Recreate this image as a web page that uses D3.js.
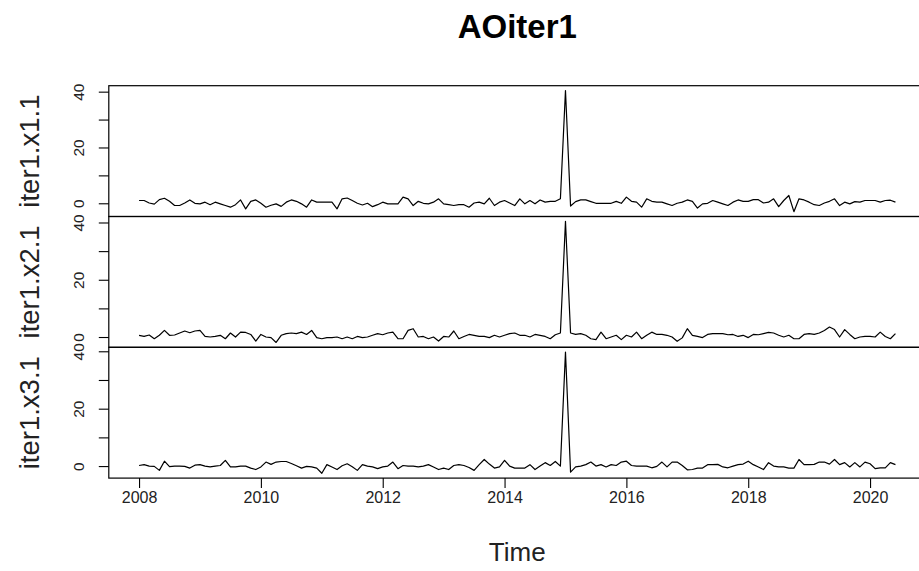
<!DOCTYPE html>
<html><head><meta charset="utf-8">
<script src="https://cdn.jsdelivr.net/npm/d3@7/dist/d3.min.js"></script>
<style>
body{margin:0;background:#fff;overflow:hidden}
svg{display:block}
text{font-family:"Liberation Sans",Arial,Helvetica,sans-serif;fill:#000}
</style>
</head><body>
<svg id="chart" width="919" height="571"></svg>
<script>
// ---- data ----
const chartTitle = "AOiter1";
const xAxisTitle = "Time";
const startYear = 2008;          // first observation: Jan 2008
const frequency = 12;            // monthly
const seriesNames = ["iter1.x1.1", "iter1.x2.1", "iter1.x3.1"];

const iter1_x1_1 = [
 1.0,1.0,0.1,-0.3,1.3,1.8,0.7,-0.8,-0.8,0.1,
 1.2,0,-0.2,0.4,-0.5,0.4,-0.2,-0.8,-1.4,-0.5,
 1.2,-2.0,0.7,1.2,0,-1.4,-0.7,-0.2,-1.1,0.4,
 1.2,0.7,-0.2,-1.4,1.2,0.4,0.4,0.4,0.4,-2.0,
 1.6,1.9,1.0,0,-0.6,0,-1.2,-0.5,0.4,-0.2,
 -0.2,-0.2,2.2,1.6,-0.8,0.7,0,-0.2,0.4,1.6,
 -0.2,-0.5,-0.8,-0.5,-0.5,-1.4,0.1,0.4,-0.2,1.8,
 -0.8,0.4,1.0,0.1,-0.8,1.6,-0.2,1.0,-0.2,1.2,
 0.4,0.7,0.7,1.6,40.4,-1.0,0.6,1.2,1.2,0.6,
 0,0,0,0,0.7,0,2.2,0.7,0.4,-1.4,
 1.6,0.7,0.4,0.4,-0.2,-0.8,0,0.4,1.2,0.7,
 -1.7,-0.2,0,1.0,0.4,-0.2,-0.8,0.4,1.2,0.7,
 0.7,1.3,1.3,0.1,0.4,1.6,-1.2,1.0,2.8,-3.0,
 1.6,1.2,0.4,-0.5,-0.8,0.1,0.7,1.6,-0.8,0.4,
 -0.2,0.6,0.4,1.0,1.0,1.0,0.4,1.0,1.1,0.4
];
const iter1_x2_1 = [
 0.6,0.2,0.7,-0.6,0.6,2.3,0.6,0.7,1.4,2.1,
 1.5,2.1,2.3,0.2,0,0.2,0.6,-0.6,1.4,0,
 1.7,1.6,0.9,-1.4,0.9,0,-0.2,-1.9,0.6,1.2,
 1.4,1.2,1.7,0.9,2.3,-0.2,-0.6,-0.2,-0.2,0,
 -0.6,0,-0.6,0.2,-0.2,0,0.6,1.2,0.8,1.4,
 1.7,-0.6,-0.6,2.3,2.9,0,0.2,-0.6,0,-1.4,
 0.2,0,2.1,-0.6,0.2,0.9,0.6,0.2,0.2,-0.2,
 0.6,0,0.6,1.2,1.4,0.6,0.6,0,0.9,0.6,
 0.2,-0.6,0.8,1.4,40.4,1.4,0.9,1.2,0.6,-0.6,
 -0.9,1.7,-0.6,0,0.6,-0.9,0.6,0,1.7,-0.6,
 0.6,1.7,0.9,0.9,0.6,0,-1.5,-0.3,2.9,0.6,
 0.2,-0.2,0.9,1.2,1.2,1.2,0.8,0.9,0.2,0.6,
 -0.2,0.9,0.8,1.2,1.6,1.4,0.6,0,0.6,-0.6,
 -0.6,0.9,1.2,0.9,1.4,2.3,3.5,2.6,0,2.6,
 0.9,-0.6,0,0.2,0.2,0,1.7,0.2,-0.6,1.2
];
const iter1_x3_1 = [
 0.2,0.5,0,-0.1,-1.5,1.7,-0.2,0,0,-0.1,
 -0.7,0.3,0.5,0,-0.3,0,0.2,2.0,-0.3,-0.3,
 0,0,-0.7,-1.2,-0.3,1.4,0.6,1.4,1.6,1.6,
 0.9,0.1,-0.7,-0.1,-0.3,-0.7,-2.5,0.5,-0.3,-1.2,
 0.1,0.8,-0.2,-1.5,0.5,0,-0.3,-0.9,-0.3,0,
 1.4,-0.9,0.2,0,0,-0.3,0,0.5,-0.3,-1.2,
 -0.7,-1.2,0.2,0.5,0.2,-0.5,-1.5,0.5,2.3,0.7,
 -0.7,-0.3,2.0,0,-0.7,-0.7,-0.7,0.5,-1.2,0,
 1.2,0.2,1.6,0,39.7,-2.1,-0.3,0,0.5,1.4,
 0,0.5,-0.3,0.5,0.2,1.4,1.7,0.2,0,0,
 0,-0.6,-0.1,1.4,-0.3,1.4,1.4,0.2,-1.3,-1.2,
 -0.7,-0.7,0.5,0.5,0.6,-0.3,-0.6,0,0.5,0.7,
 1.7,0.5,-0.3,-1.2,1.2,0,-0.3,-0.3,-0.7,-0.7,
 2.3,0.5,0.5,0.6,1.4,1.4,0.7,2.3,0.5,1.2,
 -0.3,1.2,-0.3,1.4,0.8,-0.9,-0.6,-0.6,1.2,0.5
];
const xTickValues = [2008, 2010, 2012, 2014, 2016, 2018, 2020];
const yTickValues = [0, 10, 20, 30, 40];
const yLabelledTicks = [0, 20, 40];

// ---- layout ----
const seriesList = [iter1_x1_1, iter1_x2_1, iter1_x3_1];
const plotLeft = 108.8, plotRight = 925.7, plotTop = 85.7, panelH = 130.8;
const svg = d3.select("#chart");

const n = iter1_x1_1.length;
const times = d3.range(n).map(i => startYear + i / frequency);
const t0 = times[0], t1 = times[n - 1], span = t1 - t0;
const x = d3.scaleLinear()
  .domain([t0 - 0.04 * span, t1 + 0.04 * span])
  .range([plotLeft, plotRight]);

seriesList.forEach((vals, k) => {
  const top = plotTop + k * panelH;
  const mn = d3.min(vals), mx = d3.max(vals), r = mx - mn;
  const y = d3.scaleLinear()
    .domain([mn - 0.04 * r, mx + 0.04 * r])
    .range([top + panelH, top]);

  const g = svg.append("g");

  // series line
  const line = d3.line().x((d, i) => x(times[i])).y(d => y(d));
  g.append("path").datum(vals)
    .attr("d", line)
    .attr("fill", "none")
    .attr("stroke", "#000")
    .attr("stroke-width", 1.2)
    .attr("stroke-linejoin", "round");

  // frame
  g.append("rect")
    .attr("x", plotLeft).attr("y", top)
    .attr("width", plotRight - plotLeft).attr("height", panelH)
    .attr("fill", "none").attr("stroke", "#000").attr("stroke-width", 1.2);

  // y axis
  const ax = g.append("g")
    .attr("transform", `translate(${plotLeft},0)`)
    .call(d3.axisLeft(y).tickValues(yTickValues).tickSize(10).tickSizeOuter(0)
      .tickFormat(d => yLabelledTicks.includes(d) ? String(d) : ""));
  ax.select(".domain").remove();
  ax.selectAll(".tick line").attr("stroke", "#000").attr("stroke-width", 1.1);
  ax.selectAll(".tick text")
    .attr("x", null).attr("dy", null)
    .attr("transform", "translate(-25,0) rotate(-90)")
    .attr("text-anchor", "middle")
    .attr("font-size", 15.5)
    .attr("font-family", null)
    .style("fill", "#222");

  // series name (y title)
  svg.append("text")
    .attr("transform", `translate(39,${top + panelH / 2}) rotate(-90)`)
    .attr("text-anchor", "middle")
    .attr("font-size", 27.5)
    .style("fill", "#222")
    .text(seriesNames[k]);

  // x axis on bottom panel
  if (k === seriesList.length - 1) {
    const xa = svg.append("g")
      .attr("transform", `translate(0,${top + panelH})`)
      .call(d3.axisBottom(x).tickValues(xTickValues).tickSize(10).tickFormat(d3.format("d")));
    xa.select(".domain").remove();
    xa.selectAll(".tick line").attr("stroke", "#000").attr("stroke-width", 1.1);
    xa.selectAll(".tick text")
      .attr("y", 25).attr("dy", null)
      .attr("font-size", 16)
      .attr("font-family", null)
      .style("fill", "#222");
  }
});

// titles
svg.append("text")
  .attr("x", (plotLeft + plotRight) / 2).attr("y", 38)
  .attr("text-anchor", "middle")
  .attr("font-size", 33)
  .attr("font-weight", "bold")
  .text(chartTitle);

svg.append("text")
  .attr("x", (plotLeft + plotRight) / 2).attr("y", 561)
  .attr("text-anchor", "middle")
  .attr("font-size", 26)
  .style("fill", "#222")
  .text(xAxisTitle);
</script>
</body></html>
